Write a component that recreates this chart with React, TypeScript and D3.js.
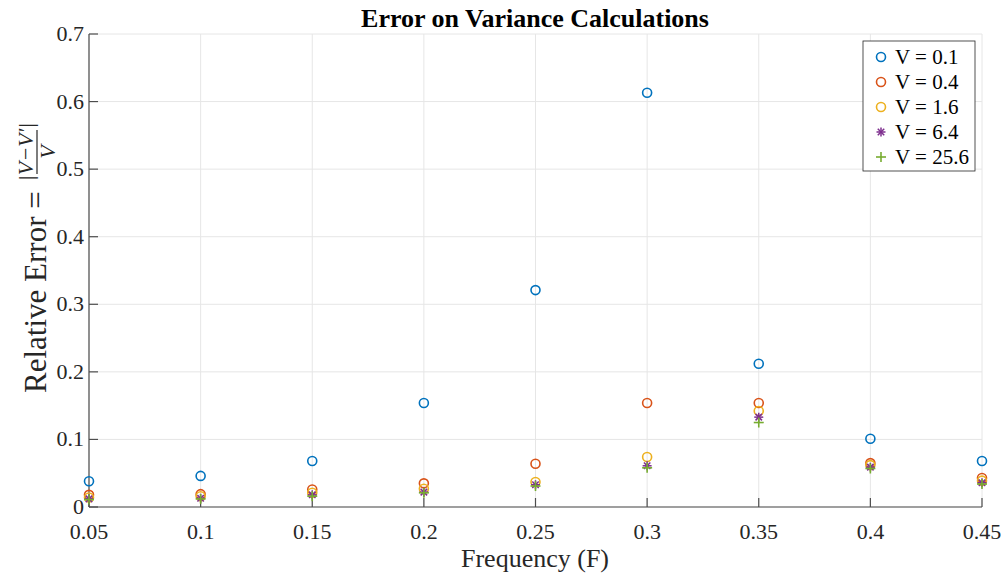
import React from "react";
import * as d3 from "d3";

const frequencies = [0.05, 0.1, 0.15, 0.2, 0.25, 0.3, 0.35, 0.4, 0.45];
const seriesV01 = [0.038, 0.046, 0.068, 0.154, 0.321, 0.613, 0.212, 0.101, 0.068];
const seriesV04 = [0.018, 0.019, 0.026, 0.035, 0.064, 0.154, 0.154, 0.065, 0.043];
const seriesV16 = [0.014, 0.016, 0.021, 0.027, 0.037, 0.074, 0.142, 0.062, 0.039];
const seriesV64 = [0.012, 0.013, 0.018, 0.022, 0.033, 0.061, 0.133, 0.059, 0.036];
const seriesV256 = [0.011, 0.012, 0.016, 0.021, 0.031, 0.058, 0.125, 0.057, 0.034];
const seriesLabels = ["V = 0.1", "V = 0.4", "V = 1.6", "V = 6.4", "V = 25.6"];
const xTicks = [0.05, 0.1, 0.15, 0.2, 0.25, 0.3, 0.35, 0.4, 0.45];
const yTicks = [0, 0.1, 0.2, 0.3, 0.4, 0.5, 0.6, 0.7];

const colors = ["#0072BD", "#D95319", "#EDB120", "#7E2F8E", "#77AC30"];
const markers = ["circle", "circle", "circle", "star", "plus"];
const allSeries = [seriesV01, seriesV04, seriesV16, seriesV64, seriesV256];

const W = 1007, H = 576;
const L = 89, R = 982, T = 34, B = 507;
const FONT = "'Liberation Serif', 'Times New Roman', serif";

function Marker({ type, x, y, color }: { type: string; x: number; y: number; color: string }) {
  if (type === "circle") {
    return <circle cx={x} cy={y} r={4.5} fill="none" stroke={color} strokeWidth={1.6} />;
  }
  if (type === "plus") {
    const s = 5;
    return (
      <g stroke={color} strokeWidth={1.6}>
        <line x1={x - s} y1={y} x2={x + s} y2={y} />
        <line x1={x} y1={y - s} x2={x} y2={y + s} />
      </g>
    );
  }
  const s = 4.5;
  const d = s * 0.72;
  return (
    <g stroke={color} strokeWidth={1.5}>
      <line x1={x - s} y1={y} x2={x + s} y2={y} />
      <line x1={x} y1={y - s} x2={x} y2={y + s} />
      <line x1={x - d} y1={y - d} x2={x + d} y2={y + d} />
      <line x1={x - d} y1={y + d} x2={x + d} y2={y - d} />
    </g>
  );
}

export default function App() {
  const x = d3.scaleLinear().domain([0.05, 0.45]).range([L, R]);
  const y = d3.scaleLinear().domain([0, 0.7]).range([B, T]);
  const fmt = (v: number) => (v === 0 ? "0" : String(+v.toFixed(2)));

  const lx = 863, ly = 41, lw = 112, lh = 130;

  return (
    <svg width={W} height={H} style={{ position: "absolute", left: 0, top: 0, background: "#fff" }} fontFamily={FONT}>
      <rect x={0} y={0} width={W} height={H} fill="#fff" />
      {/* grid */}
      <g stroke="#e6e6e6" strokeWidth={1}>
        {xTicks.map((t) => (
          <line key={"gx" + t} x1={x(t)} x2={x(t)} y1={T} y2={B} />
        ))}
        {yTicks.map((t) => (
          <line key={"gy" + t} x1={L} x2={R} y1={y(t)} y2={y(t)} />
        ))}
      </g>
      {/* axes */}
      <g stroke="#4d4d4d" strokeWidth={1.2}>
        <line x1={L} x2={L} y1={T} y2={B} />
        <line x1={L} x2={R} y1={B} y2={B} />
        {xTicks.map((t) => (
          <line key={"tx" + t} x1={x(t)} x2={x(t)} y1={B} y2={B - 9} />
        ))}
        {yTicks.map((t) => (
          <line key={"ty" + t} x1={L} x2={L + 9} y1={y(t)} y2={y(t)} />
        ))}
      </g>
      {/* tick labels */}
      <g fontSize={22} fill="#262626">
        {xTicks.map((t) => (
          <text key={"lx" + t} x={x(t)} y={B + 32} textAnchor="middle">
            {fmt(t)}
          </text>
        ))}
        {yTicks.map((t) => (
          <text key={"ly" + t} x={L - 5} y={y(t) + 7} textAnchor="end">
            {fmt(t)}
          </text>
        ))}
      </g>
      {/* title */}
      <text x={535} y={27} textAnchor="middle" fontSize={26} fontWeight="bold" fill="#000">
        Error on Variance Calculations
      </text>
      {/* x label */}
      <text x={535} y={567} textAnchor="middle" fontSize={26} fill="#262626">
        Frequency (F)
      </text>
      {/* y label */}
      <g transform="translate(46,0) rotate(-90)" fill="#262626">
        <text x={-393} y={0} fontSize={31} textAnchor="start">
          Relative Error =
        </text>
        <g transform="translate(-152,-8)">
          <text x={0} y={-5} fontSize={22} fontStyle="italic" textAnchor="middle">
            |V−V′|
          </text>
          <line x1={-22} x2={22} y1={-1} y2={-1} stroke="#262626" strokeWidth={1.2} />
          <text x={0} y={17} fontSize={22} fontStyle="italic" textAnchor="middle">
            V
          </text>
        </g>
      </g>
      {/* data */}
      {allSeries.map((s, si) => (
        <g key={"s" + si}>
          {s.map((v, i) => (
            <Marker key={i} type={markers[si]} x={x(frequencies[i])} y={y(v)} color={colors[si]} />
          ))}
        </g>
      ))}
      {/* legend */}
      <rect x={lx} y={ly} width={lw} height={lh} fill="#fff" stroke="#262626" strokeWidth={0.8} />
      {seriesLabels.map((lab, i) => (
        <g key={lab}>
          <Marker type={markers[i]} x={lx + 18} y={ly + 16 + i * 25} color={colors[i]} />
          <text x={lx + 32} y={ly + 23 + i * 25} fontSize={21} fill="#000">
            {lab}
          </text>
        </g>
      ))}
    </svg>
  );
}
